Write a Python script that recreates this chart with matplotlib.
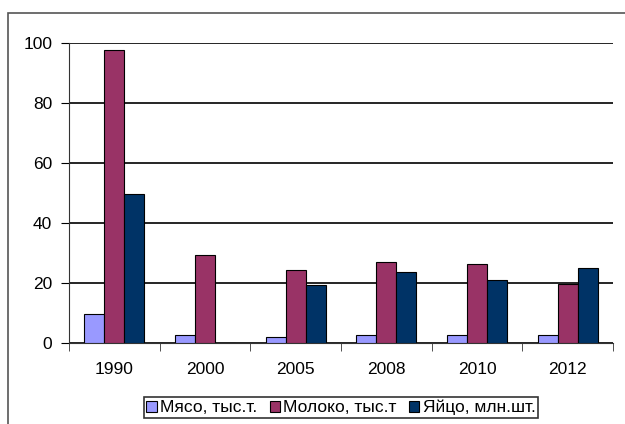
import numpy as np
import matplotlib.pyplot as plt
from matplotlib.patches import Rectangle

plt.rcParams['font.family'] = ['Liberation Sans', 'DejaVu Sans']

years = ['1990', '2000', '2005', '2008', '2010', '2012']
meat = [9.8, 2.8, 2.0, 2.8, 2.8, 2.8]
milk = [97.6, 29.4, 24.2, 26.8, 26.2, 19.6]
eggs = [49.6, 0.0, 19.2, 23.6, 21.0, 25.0]
labels = ['Мясо, тыс.т.', 'Молоко, тыс.т', 'Яйцо, млн.шт.']
colors = ['#9999ff', '#993366', '#003366']

fig = plt.figure(figsize=(6.25, 4.24), dpi=100)
ax = fig.add_axes([0.1104, 0.191, 0.8704, 0.7087])

# outer chart frame (cut off on the right and bottom)
fig.patches.append(Rectangle((8 / 625, -0.1), 1.2, 1 - 13 / 424 + 0.1,
                             transform=fig.transFigure, fill=False,
                             edgecolor='#555555', linewidth=1.2))

x = np.arange(len(years))
w = 0.22
for i, (vals, lab, c) in enumerate(zip([meat, milk, eggs], labels, colors)):
    ax.bar(x + (i - 1) * w, vals, w, color=c, edgecolor='black',
           linewidth=0.8, label=lab, zorder=3)

ax.set_xlim(-0.5, len(years) - 0.5)
ax.set_ylim(0, 100)
ax.set_yticks(range(0, 101, 20))
ax.yaxis.grid(True, color='black', linewidth=1.2, zorder=0)
ax.set_xticks(x)
ax.set_xticklabels(years)
ax.set_xticks(np.arange(-0.5, len(years)), minor=True)
ax.tick_params(axis='x', which='major', length=0, pad=14, labelsize=12.5)
ax.tick_params(axis='x', which='minor', length=6, color='#333333')
ax.tick_params(axis='y', length=6, labelsize=12.5, pad=6)
for s in ['top', 'right']:
    ax.spines[s].set_visible(False)
ax.spines['left'].set_color('#333333')
ax.spines['bottom'].set_color('#333333')

leg = fig.legend(loc='center', bbox_to_anchor=(341 / 625, 1 - 407.5 / 424),
                 ncol=3, fontsize=12.5, frameon=True, fancybox=False,
                 edgecolor='black', handlelength=0.6, handleheight=0.6,
                 handletextpad=0.2, columnspacing=0.7, borderpad=0.15,
                 borderaxespad=0)
leg.get_frame().set_linewidth(1.2)

fig.savefig('out.png', dpi=100)
